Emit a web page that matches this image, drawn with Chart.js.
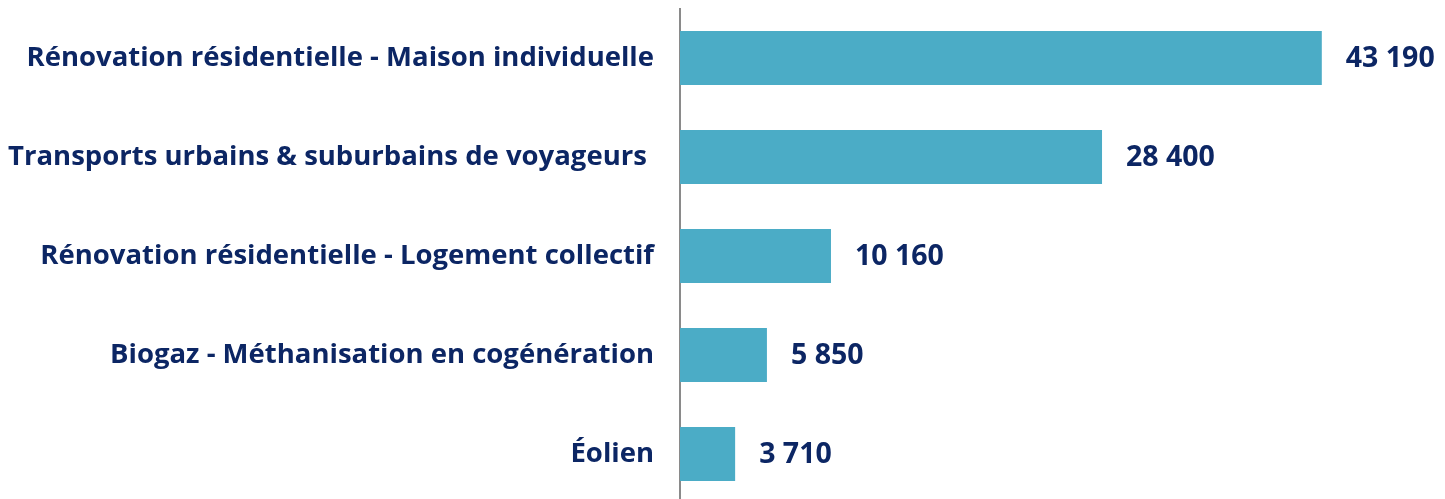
<!DOCTYPE html>
<html>
<head>
<meta charset="utf-8">
<script src="https://cdn.jsdelivr.net/npm/chart.js@4/dist/chart.umd.min.js"></script>
<style>
html,body{margin:0;padding:0;background:#fff;overflow:hidden;}
#wrap{width:1445px;height:505px;}
</style>
</head>
<body>
<div id="wrap"><canvas id="c" width="1445" height="505"></canvas></div>
<script>
const categories = [
  "Rénovation résidentielle - Maison individuelle",
  "Transports urbains & suburbains de voyageurs ",
  "Rénovation résidentielle - Logement collectif",
  "Biogaz - Méthanisation en cogénération",
  "Éolien"
];
const values = [43190, 28400, 10160, 5850, 3710];

const NAVY = "#0c2664";
const BAR = "#4bacc6";

function fmt(v){
  return String(v).replace(/\B(?=(\d{3})+(?!\d))/g, " ");
}

const valueLabels = {
  id: "valueLabels",
  afterDatasetsDraw(chart){
    const ctx = chart.ctx;
    const meta = chart.getDatasetMeta(0);
    ctx.save();
    ctx.font = "bold 28.5px 'Open Sans'";
    ctx.fillStyle = NAVY;
    ctx.textAlign = "left";
    ctx.textBaseline = "middle";
    meta.data.forEach((bar, i) => {
      ctx.fillText(fmt(values[i]), bar.x + 24, bar.y + 1);
    });
    ctx.restore();
  }
};

new Chart(document.getElementById("c"), {
  type: "bar",
  data: {
    labels: categories,
    datasets: [{
      data: values,
      backgroundColor: BAR,
      borderWidth: 0,
      categoryPercentage: 1,
      barPercentage: 0.545
    }]
  },
  options: {
    indexAxis: "y",
    responsive: false,
    animation: false,
    layout: { padding: { top: 8.5, bottom: 1.5, right: 22, left: 0 } },
    plugins: { legend: { display: false }, tooltip: { enabled: false } },
    scales: {
      x: { display: false, min: 0, max: 50000 },
      y: {
        afterFit(scale){ scale.width = 680; scale.paddingTop = 0; scale.paddingBottom = 0; },
        grid: { display: true, drawOnChartArea: false, drawTicks: false },
        border: { display: true, color: "#8a8a8a", width: 2 },
        ticks: {
          color: NAVY,
          padding: 26,
          font: { family: "'Open Sans'", size: 27.5, weight: "bold" }
        }
      }
    }
  },
  plugins: [valueLabels]
});
</script>
</body>
</html>
